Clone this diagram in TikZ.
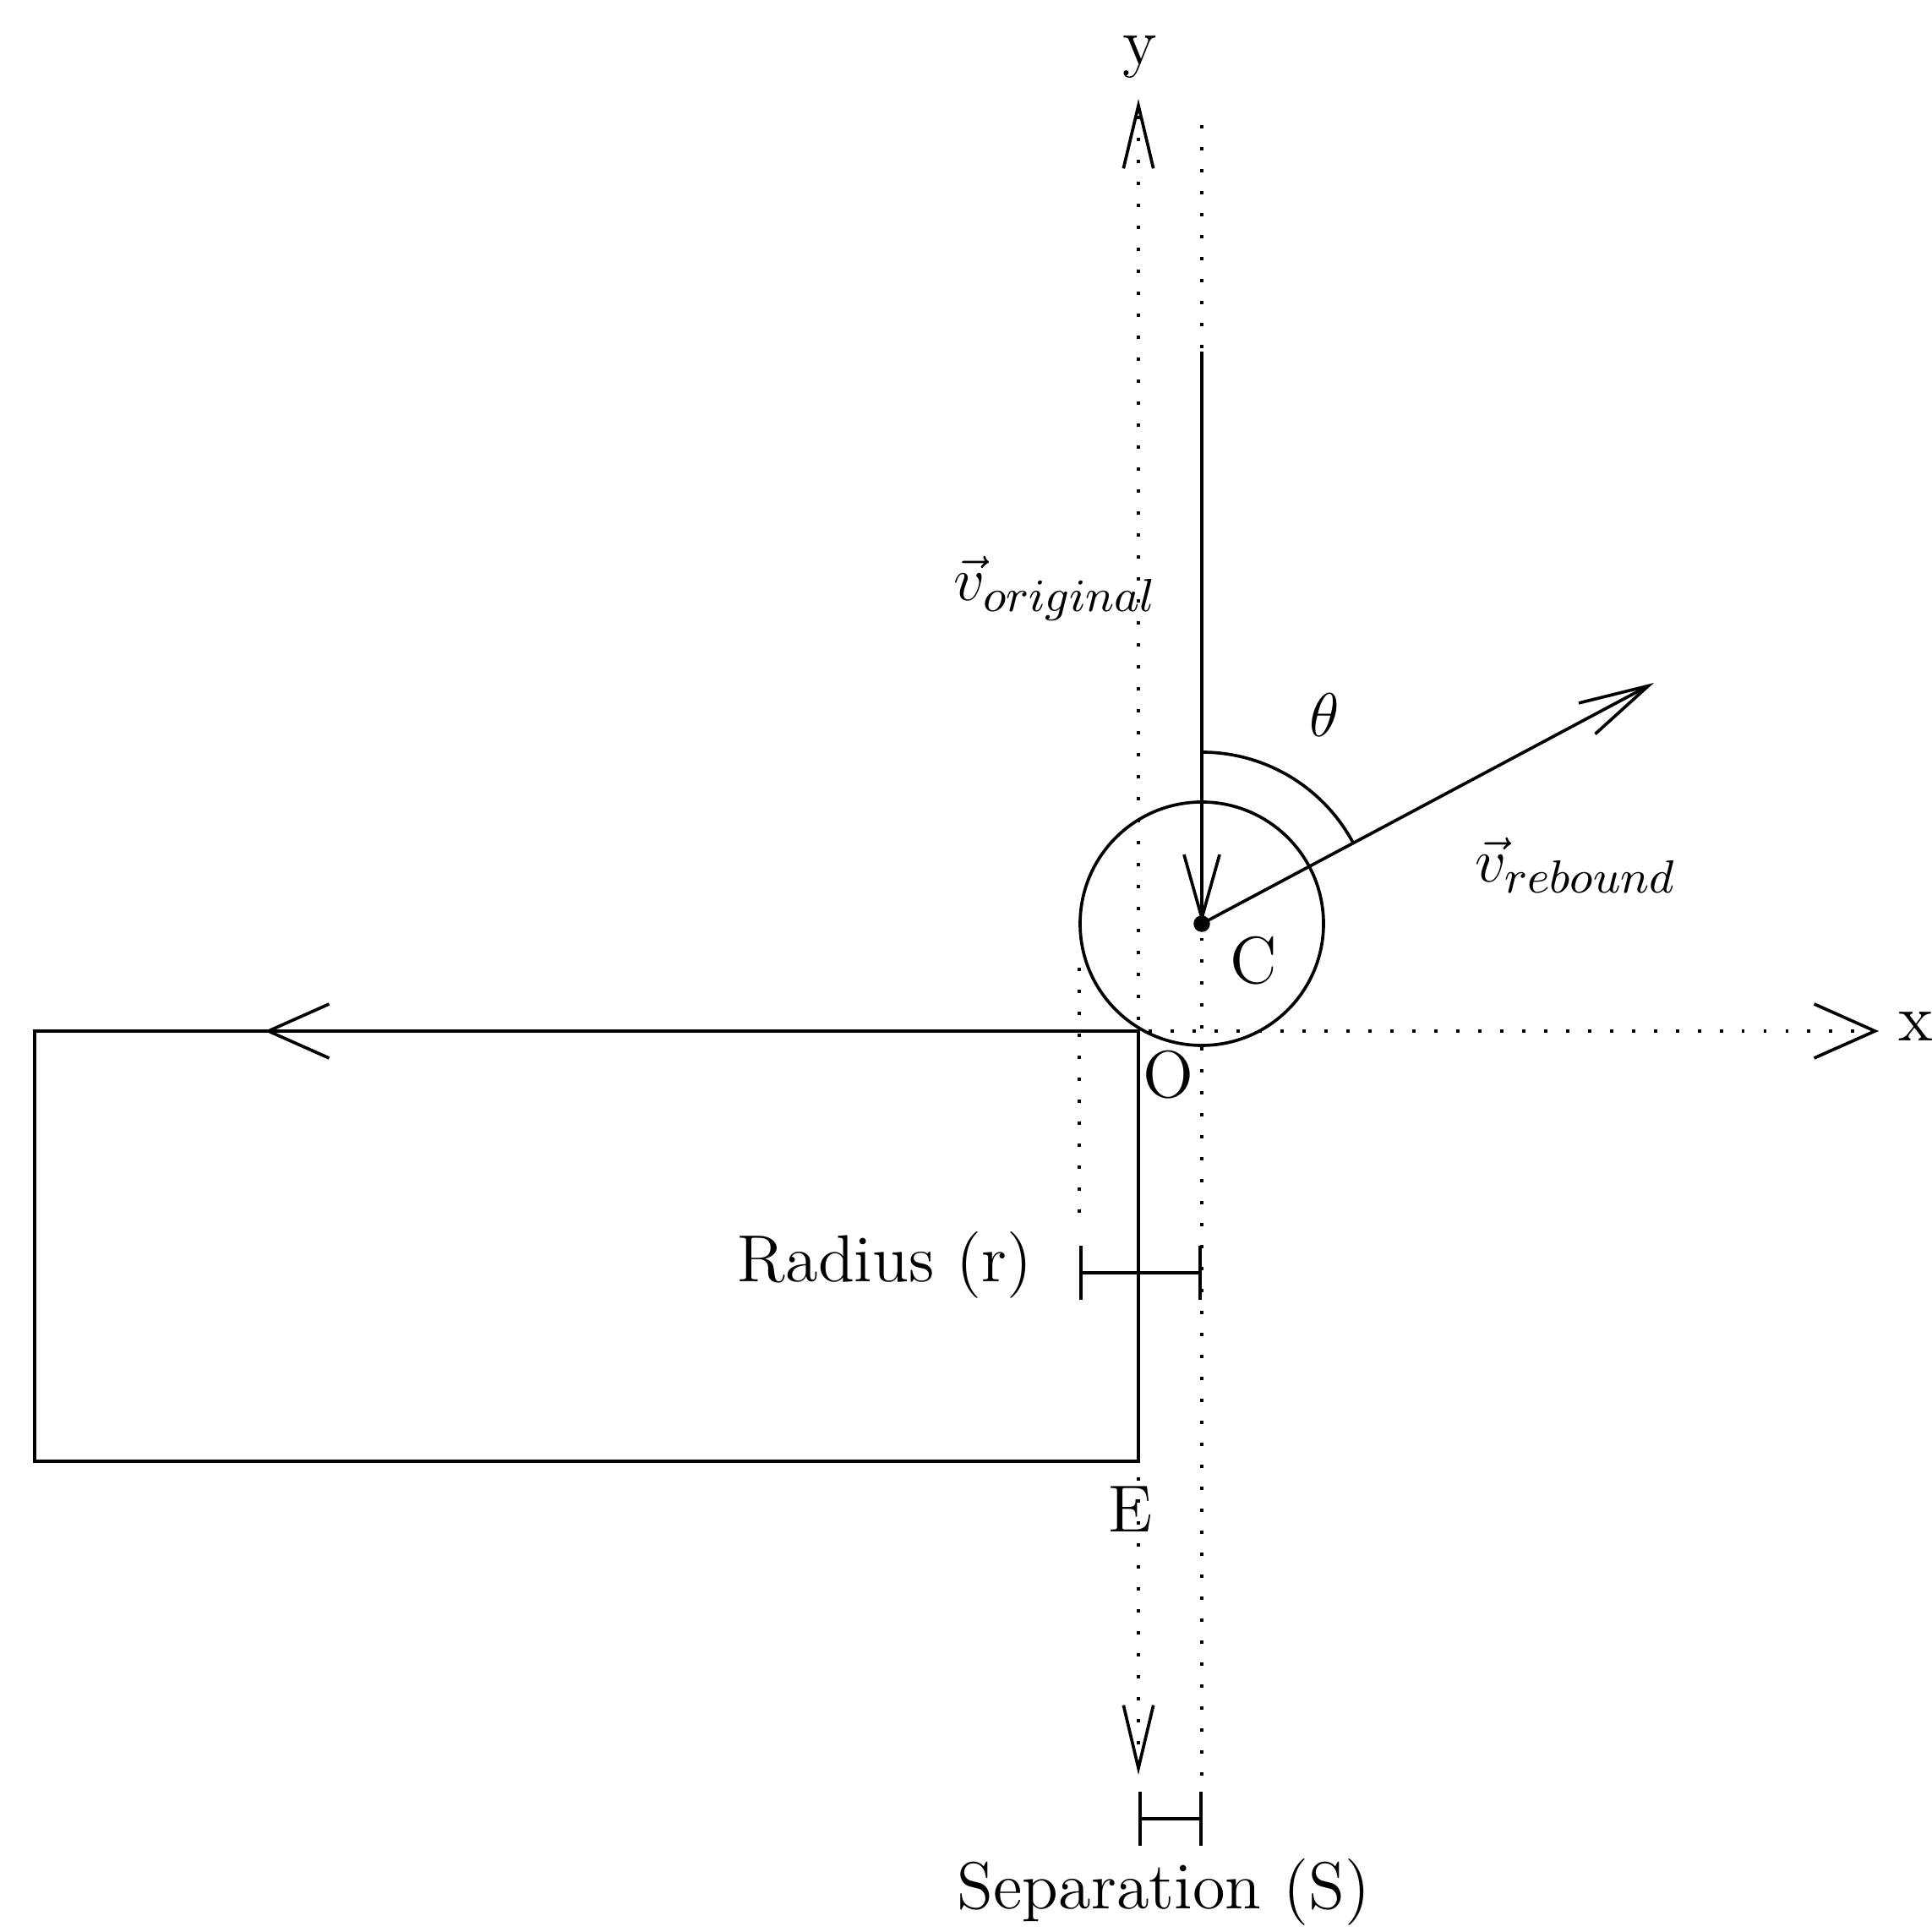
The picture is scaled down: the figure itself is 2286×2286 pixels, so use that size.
\documentclass[tikz,border=0pt]{standalone}
\usetikzlibrary{arrows.meta}
\begin{document}
\begin{tikzpicture}[x=0.16393pt,y=0.16393pt,line width=0.6pt,
  lbl/.style={font=\fontsize{12.9}{15}\selectfont,inner sep=0pt},
  dots/.style={dash pattern=on 0.65pt off 3.61pt},
  xtips/.style={{Straight Barb[length=11.8pt,width=10.5pt]}-{Straight Barb[length=11.8pt,width=10.5pt]}},
  ytips/.style={{Straight Barb[length=12.2pt,width=5.8pt]}-{Straight Barb[length=12.2pt,width=5.8pt]}},
  vtip/.style={-{Straight Barb[length=12.3pt,width=6.9pt]}},
  rtip/.style={-{Straight Barb[length=13.5pt,width=6.8pt]}},
  bars/.style={{Bar[width=10.4pt]}-{Bar[width=10.4pt]}}]
\useasboundingbox (0,0) rectangle (2286,2286);
% coordinates
\coordinate (O) at (1347,1066);
\coordinate (C) at (1422,1193);
\coordinate (xl) at (313,1066);
\coordinate (xr) at (2223,1066);
\coordinate (yt) at (1347,2169);
\coordinate (yb) at (1347,186);
\coordinate (RTL) at (41,1066);
\coordinate (RBR) at (1347,557);
\coordinate (dt) at (1422,2138);
\coordinate (db) at (1422,166);
\coordinate (vo) at (1422,1870);
\coordinate (vr) at (1957,1478);
\coordinate (at) at (1422,1396);
\coordinate (rt) at (1277,1141);
\coordinate (rb) at (1277,846);
\coordinate (r1) at (1277,780);
\coordinate (r2) at (1422,780);
\coordinate (s1) at (1347,134);
\coordinate (s2) at (1423,134);
% block
\draw (RTL) rectangle (RBR);
% axes
\draw[dots,xtips] (xl) -- (xr);
\draw[dots,ytips] (yb) -- (yt);
% dotted guides
\draw[dots] (dt) -- (db);
\draw[dots] (rt) -- (rb);
% ball
\draw (C) circle[radius=144];
\fill (C) circle[radius=1.6pt];
% velocities
\draw[vtip] (vo) -- (C);
\draw[rtip] (C) -- (vr);
\draw (at) arc[start angle=90,end angle=28,radius=203];
% dimension bars
\draw[bars] (r1) -- (r2);
\draw[bars] (s1) -- (s2);
% labels
\node[lbl] (ly) at (1349,2218) {y};
\node[lbl] (lx) at (2267,1071) {x};
\node[lbl] (lO) at (1382,1014) {O};
\node[lbl] (lC) at (1483,1149) {C};
\node[lbl] (lE) at (1338,500) {E};
\node[lbl] (lth) at (1567,1440) {$\theta$};
\node[lbl] (lvo) at (1249,1590) {$\vec{v}_{original}$};
\node[lbl] (lvr) at (1865,1262) {$\vec{v}_{rebound}$};
\node[lbl] (lr) at (1047,789) {Radius (r)};
\node[lbl,anchor=base] (ls) at (1377,27) {Separation (S)};
\end{tikzpicture}
\end{document}
